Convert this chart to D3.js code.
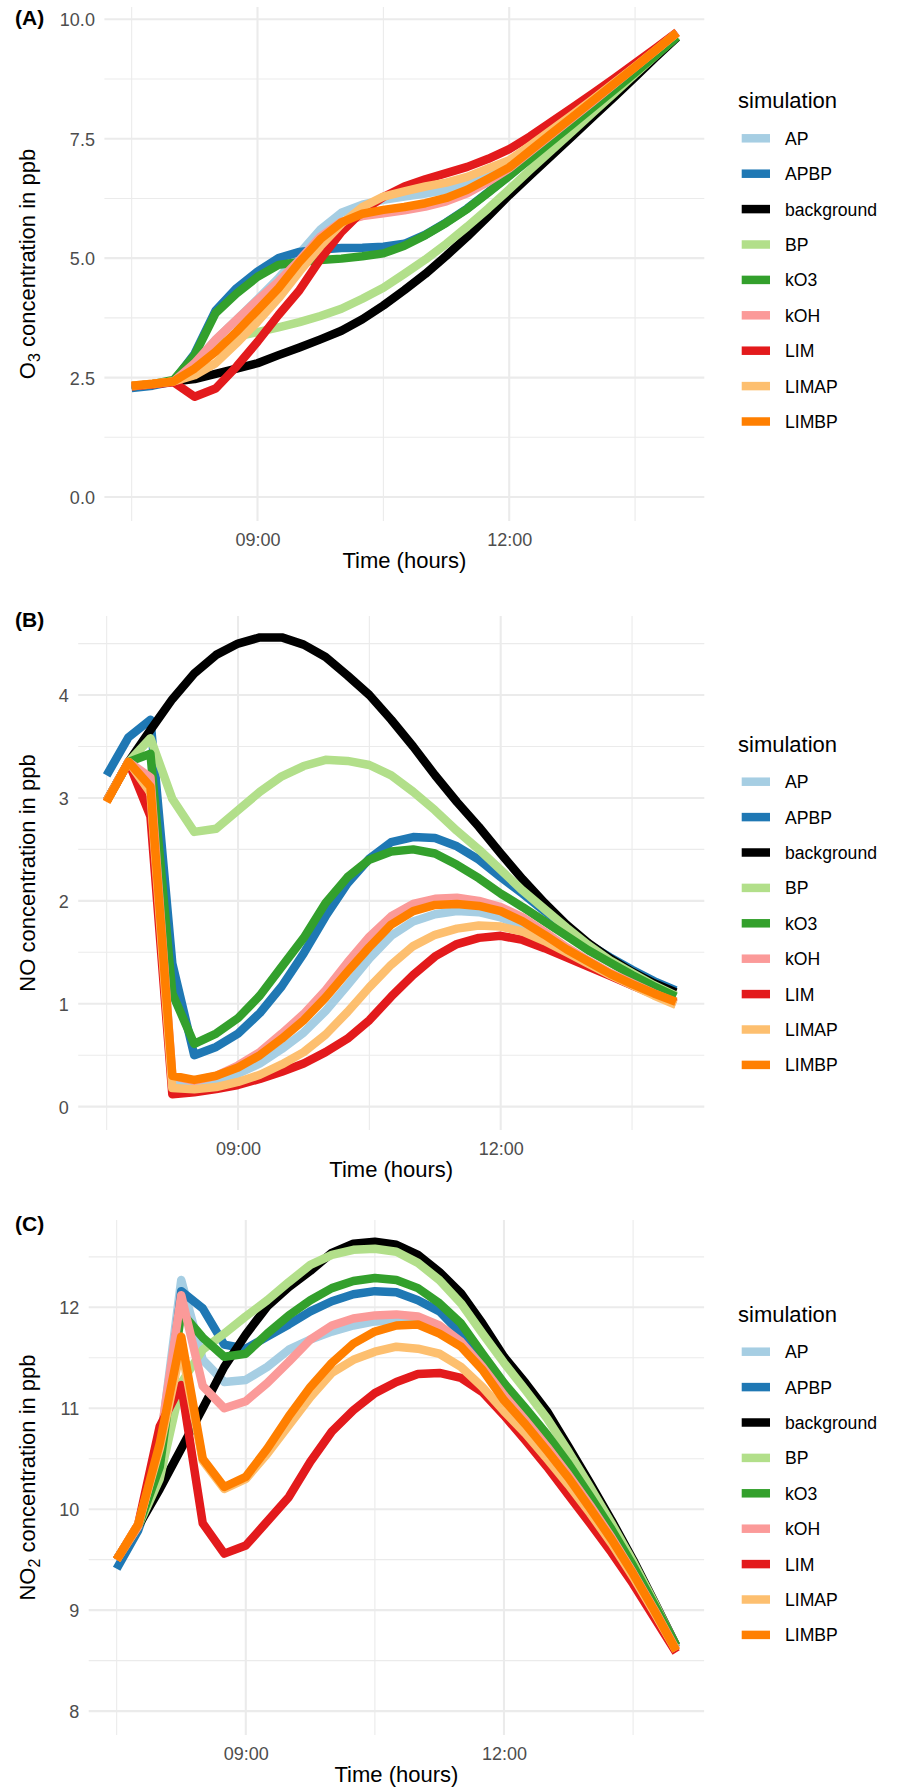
<!DOCTYPE html>
<html><head><meta charset="utf-8">
<script src="https://cdn.jsdelivr.net/npm/d3@7"></script>
<style>body{margin:0;background:#fff} svg{display:block}</style>
</head><body>
<svg id="c" width="897" height="1790"></svg>
<script>
// ---------------- DATA ----------------
const times = ["07:30","07:45","08:00","08:15","08:30","08:45","09:00","09:15","09:30","09:45","10:00","10:15","10:30","10:45","11:00","11:15","11:30","11:45","12:00","12:15","12:30","12:45","13:00","13:15","13:30","13:45","14:00"];
const simulations = ["AP","APBP","background","BP","kO3","kOH","LIM","LIMAP","LIMBP"];
const simColors = ["#A6CEE3","#1F78B4","#000000","#B2DF8A","#33A02C","#FB9A99","#E31A1C","#FDBF6F","#FF7F00"];
const xTickLabels = ["09:00","12:00"];
const xMinorLabels = ["07:30","10:30","13:30"];

// Panel A: O3 (ppb)
const o3_AP         = [2.32,2.36,2.42,2.80,3.29,3.71,4.14,4.58,5.10,5.60,5.95,6.12,6.22,6.29,6.35,6.43,6.53,6.70,6.92,7.25,7.60,7.95,8.30,8.65,9.00,9.36,9.72];
const o3_APBP       = [2.28,2.33,2.42,3.00,3.90,4.37,4.72,5.00,5.13,5.18,5.21,5.22,5.24,5.30,5.49,5.75,6.04,6.38,6.73,7.09,7.45,7.81,8.17,8.53,8.89,9.26,9.63];
const o3_background = [2.32,2.36,2.42,2.47,2.58,2.69,2.80,2.97,3.13,3.30,3.48,3.72,4.01,4.33,4.67,5.05,5.45,5.88,6.32,6.73,7.14,7.55,7.96,8.37,8.79,9.21,9.62];
const o3_BP         = [2.32,2.36,2.42,2.75,3.15,3.36,3.45,3.55,3.66,3.79,3.94,4.15,4.38,4.67,4.97,5.30,5.66,6.04,6.44,6.85,7.25,7.65,8.05,8.45,8.85,9.25,9.65];
const o3_kO3        = [2.32,2.36,2.45,2.97,3.85,4.26,4.61,4.86,4.92,4.96,4.99,5.04,5.10,5.26,5.48,5.74,6.03,6.37,6.72,7.08,7.44,7.80,8.16,8.52,8.88,9.25,9.63];
const o3_kOH        = [2.32,2.36,2.42,2.80,3.29,3.71,4.12,4.51,4.96,5.45,5.76,5.88,5.94,6.00,6.08,6.19,6.36,6.60,6.88,7.23,7.58,7.93,8.28,8.64,9.00,9.36,9.72];
const o3_LIM        = [2.32,2.36,2.40,2.10,2.27,2.73,3.25,3.81,4.33,4.98,5.55,5.98,6.28,6.50,6.65,6.78,6.91,7.08,7.28,7.55,7.85,8.15,8.45,8.76,9.08,9.40,9.73];
const o3_LIMAP      = [2.33,2.37,2.42,2.55,2.80,3.22,3.67,4.16,4.72,5.25,5.72,6.07,6.29,6.40,6.50,6.58,6.70,6.88,7.05,7.36,7.68,8.00,8.33,8.67,9.01,9.36,9.72];
const o3_LIMBP      = [2.33,2.37,2.42,2.69,3.04,3.46,3.91,4.37,4.92,5.40,5.75,5.93,6.01,6.07,6.15,6.26,6.43,6.66,6.90,7.25,7.60,7.95,8.30,8.65,9.00,9.36,9.72];

// Panel B: NO (ppb)
const no_AP         = [2.97,3.35,3.15,0.25,0.22,0.26,0.32,0.42,0.56,0.72,0.93,1.18,1.44,1.66,1.80,1.87,1.90,1.89,1.84,1.75,1.62,1.49,1.38,1.28,1.18,1.10,1.02];
const no_APBP       = [3.22,3.59,3.76,1.39,0.50,0.58,0.71,0.91,1.17,1.49,1.85,2.17,2.41,2.57,2.62,2.61,2.53,2.40,2.23,2.07,1.90,1.74,1.58,1.45,1.33,1.22,1.13];
const no_background = [2.97,3.35,3.66,3.96,4.21,4.39,4.50,4.56,4.56,4.49,4.37,4.19,4.00,3.76,3.50,3.22,2.96,2.72,2.46,2.21,1.98,1.77,1.59,1.44,1.31,1.20,1.11];
const no_BP         = [2.97,3.35,3.58,2.99,2.67,2.70,2.88,3.06,3.21,3.31,3.37,3.36,3.32,3.22,3.06,2.88,2.68,2.50,2.30,2.10,1.92,1.74,1.57,1.42,1.30,1.18,1.08];
const no_kO3        = [2.97,3.35,3.43,1.10,0.61,0.71,0.86,1.08,1.36,1.64,1.98,2.23,2.40,2.48,2.50,2.46,2.35,2.22,2.07,1.94,1.80,1.66,1.52,1.40,1.28,1.17,1.07];
const no_kOH        = [2.97,3.35,3.20,0.30,0.25,0.30,0.40,0.53,0.71,0.90,1.13,1.40,1.65,1.85,1.97,2.02,2.03,2.00,1.94,1.84,1.70,1.55,1.42,1.30,1.20,1.10,1.01];
const no_LIM        = [2.97,3.35,2.82,0.12,0.14,0.17,0.21,0.27,0.34,0.42,0.53,0.66,0.84,1.07,1.28,1.46,1.58,1.64,1.66,1.62,1.54,1.45,1.36,1.27,1.18,1.09,1.00];
const no_LIMAP      = [2.97,3.35,3.05,0.18,0.17,0.19,0.24,0.31,0.41,0.53,0.70,0.92,1.16,1.38,1.56,1.67,1.73,1.76,1.75,1.70,1.61,1.50,1.39,1.28,1.18,1.08,0.99];
const no_LIMBP      = [2.96,3.35,3.11,0.30,0.26,0.30,0.38,0.50,0.66,0.84,1.06,1.31,1.55,1.77,1.90,1.96,1.97,1.95,1.90,1.80,1.67,1.53,1.41,1.29,1.19,1.10,1.02];

// Panel C: NO2 (ppb)
const no2_AP         = [9.50,9.83,10.60,12.27,11.48,11.26,11.28,11.41,11.58,11.68,11.76,11.82,11.86,11.87,11.86,11.78,11.64,11.41,11.13,10.88,10.62,10.34,10.04,9.72,9.37,9.00,8.62];
const no2_APBP       = [9.41,9.79,10.40,12.16,11.99,11.63,11.59,11.71,11.83,11.96,12.06,12.13,12.16,12.15,12.07,11.96,11.74,11.49,11.18,10.93,10.67,10.39,10.08,9.76,9.40,9.02,8.63];
const no2_background = [9.50,9.83,10.20,10.60,11.00,11.41,11.73,12.01,12.20,12.36,12.54,12.63,12.65,12.62,12.52,12.35,12.14,11.84,11.51,11.25,10.97,10.62,10.26,9.89,9.50,9.08,8.65];
const no2_BP         = [9.50,9.83,10.30,11.25,11.58,11.74,11.91,12.07,12.25,12.42,12.52,12.57,12.58,12.55,12.44,12.27,12.04,11.74,11.45,11.18,10.90,10.57,10.22,9.86,9.48,9.07,8.64];
const no2_kO3        = [9.50,9.83,10.42,11.95,11.70,11.51,11.54,11.74,11.92,12.07,12.19,12.26,12.29,12.27,12.19,12.04,11.84,11.54,11.25,11.00,10.74,10.45,10.13,9.80,9.44,9.05,8.65];
const no2_kOH        = [9.50,9.83,10.65,12.12,11.22,11.00,11.07,11.25,11.46,11.68,11.82,11.89,11.92,11.93,11.91,11.82,11.66,11.41,11.13,10.88,10.62,10.34,10.04,9.72,9.37,9.00,8.61];
const no2_LIM        = [9.50,9.85,10.82,11.23,9.86,9.56,9.64,9.88,10.12,10.47,10.77,10.98,11.15,11.26,11.34,11.35,11.30,11.16,10.93,10.68,10.42,10.14,9.86,9.57,9.26,8.92,8.58];
const no2_LIMAP      = [9.50,9.85,10.60,11.60,10.48,10.20,10.30,10.55,10.83,11.11,11.35,11.48,11.56,11.61,11.59,11.54,11.41,11.21,10.97,10.75,10.50,10.24,9.96,9.66,9.33,8.97,8.60];
const no2_LIMBP      = [9.50,9.85,10.65,11.71,10.50,10.22,10.32,10.60,10.92,11.21,11.45,11.64,11.76,11.82,11.83,11.74,11.61,11.38,11.08,10.84,10.58,10.31,10.01,9.70,9.36,8.99,8.60];

const yTicksA = [0, 2.5, 5, 7.5, 10];
const yTicksB = [0, 1, 2, 3, 4];
const yTicksC = [8, 9, 10, 11, 12];

// ---------------- LAYOUT ----------------
const FONT = "'Liberation Sans', Arial, Helvetica, sans-serif";
const hrs = s => { const [h, m] = s.split(":").map(Number); return h + m / 60; };

const panels = [
  { tag: "(A)", tagY: 25, left: 104.4, right: 704.3, top: 7, bottom: 521,
    yDom: [-0.502, 10.257], ticks: yTicksA, fmt: d3.format(".1f"), minorStep: 1.25,
    series: [o3_AP, o3_APBP, o3_background, o3_BP, o3_kO3, o3_kOH, o3_LIM, o3_LIMAP, o3_LIMBP],
    yTitle: ["O", "3", " concentration in ppb"], legTitleY: 108.3, legY0: 138.3 },
  { tag: "(B)", tagY: 627, left: 78.2, right: 704.3, top: 616, bottom: 1130,
    yDom: [-0.227, 4.768], ticks: yTicksB, fmt: d3.format("d"), minorStep: 0.5,
    series: [no_AP, no_APBP, no_background, no_BP, no_kO3, no_kOH, no_LIM, no_LIMAP, no_LIMBP],
    yTitle: ["NO", "", " concentration in ppb"], legTitleY: 751.8, legY0: 781.7 },
  { tag: "(C)", tagY: 1231, left: 88.7, right: 704.1, top: 1220, bottom: 1735,
    yDom: [7.763, 12.865], ticks: yTicksC, fmt: d3.format("d"), minorStep: 0.5,
    series: [no2_AP, no2_APBP, no2_background, no2_BP, no2_kO3, no2_kOH, no2_LIM, no2_LIMAP, no2_LIMBP],
    yTitle: ["NO", "2", " concentration in ppb"], legTitleY: 1321.7, legY0: 1351.7 }
];

const svg = d3.select("#c");
const tVals = times.map(hrs);
const tMin = d3.min(tVals), tMax = d3.max(tVals), tPad = (tMax - tMin) * 0.05;

panels.forEach(p => {
  const g = svg.append("g");
  const x = d3.scaleLinear().domain([tMin - tPad, tMax + tPad]).range([p.left, p.right]);
  const y = d3.scaleLinear().domain(p.yDom).range([p.bottom, p.top]);

  // minor grid
  const yMinor = d3.range(Math.ceil(p.yDom[0] / p.minorStep) * p.minorStep, p.yDom[1], p.minorStep)
    .filter(v => !p.ticks.some(t => Math.abs(t - v) < 1e-6));
  g.selectAll(".ymin").data(yMinor).join("line")
    .attr("x1", p.left).attr("x2", p.right).attr("y1", d => y(d)).attr("y2", d => y(d))
    .attr("stroke", "#EBEBEB").attr("stroke-width", 1.1);
  g.selectAll(".xmin").data(xMinorLabels.map(hrs)).join("line")
    .attr("y1", p.top).attr("y2", p.bottom).attr("x1", d => x(d)).attr("x2", d => x(d))
    .attr("stroke", "#EBEBEB").attr("stroke-width", 1.1);
  // major grid
  g.selectAll(".ymaj").data(p.ticks).join("line")
    .attr("x1", p.left).attr("x2", p.right).attr("y1", d => y(d)).attr("y2", d => y(d))
    .attr("stroke", "#EBEBEB").attr("stroke-width", 2.1);
  g.selectAll(".xmaj").data(xTickLabels.map(hrs)).join("line")
    .attr("y1", p.top).attr("y2", p.bottom).attr("x1", d => x(d)).attr("x2", d => x(d))
    .attr("stroke", "#EBEBEB").attr("stroke-width", 2.1);

  // axes (text only, like theme_minimal)
  const yAxis = d3.axisLeft(y).tickValues(p.ticks).tickFormat(p.fmt).tickSize(0).tickPadding(9.5);
  const ya = g.append("g").attr("transform", `translate(${p.left},0)`).call(yAxis);
  ya.select(".domain").remove();
  ya.selectAll("text").attr("font-family", FONT).attr("font-size", 18).attr("fill", "#4D4D4D").attr("dy", "0.36em");

  const xAxis = d3.axisBottom(x).tickValues(xTickLabels.map(hrs))
    .tickFormat((d, i) => xTickLabels[i]).tickSize(0).tickPadding(0);
  const xa = g.append("g").attr("transform", `translate(0,${p.bottom})`).call(xAxis);
  xa.select(".domain").remove();
  xa.selectAll("text").attr("font-family", FONT).attr("font-size", 18).attr("fill", "#4D4D4D")
    .attr("dy", null).attr("y", 25);

  // lines
  const line = d3.line().x((d, i) => x(tVals[i])).y(d => y(d));
  simulations.forEach((s, k) => {
    g.append("path").datum(p.series[k]).attr("d", line)
      .attr("fill", "none").attr("stroke", simColors[k]).attr("stroke-width", 8.5)
      .attr("stroke-linejoin", "round").attr("stroke-linecap", "butt");
  });

  // axis titles
  g.append("text").attr("x", (p.left + p.right) / 2).attr("y", p.bottom + 47)
    .attr("text-anchor", "middle").attr("font-family", FONT).attr("font-size", 22).attr("fill", "#000")
    .text("Time (hours)");
  const yt = g.append("text")
    .attr("transform", `translate(35,${(p.top + p.bottom) / 2}) rotate(-90)`)
    .attr("text-anchor", "middle").attr("font-family", FONT).attr("font-size", 22).attr("fill", "#000");
  yt.append("tspan").text(p.yTitle[0]);
  if (p.yTitle[1]) {
    yt.append("tspan").attr("dy", 5).attr("font-size", 16).text(p.yTitle[1]);
    yt.append("tspan").attr("dy", -5).text(p.yTitle[2]);
  } else {
    yt.append("tspan").text(p.yTitle[2]);
  }

  // tag
  g.append("text").attr("x", 15).attr("y", p.tagY).attr("font-family", FONT)
    .attr("font-size", 21).attr("font-weight", "bold").text(p.tag);

  // legend
  const lg = g.append("g");
  lg.append("text").attr("x", 738).attr("y", p.legTitleY).attr("font-family", FONT)
    .attr("font-size", 22).attr("fill", "#000").text("simulation");
  simulations.forEach((s, k) => {
    const cy = p.legY0 + k * 35.4;
    lg.append("line").attr("x1", 741.7).attr("x2", 770).attr("y1", cy).attr("y2", cy)
      .attr("stroke", simColors[k]).attr("stroke-width", 8.5);
    lg.append("text").attr("x", 785).attr("y", cy + 6.5).attr("font-family", FONT)
      .attr("font-size", 17.6).attr("fill", "#000").text(s);
  });
});
</script>
</body></html>
